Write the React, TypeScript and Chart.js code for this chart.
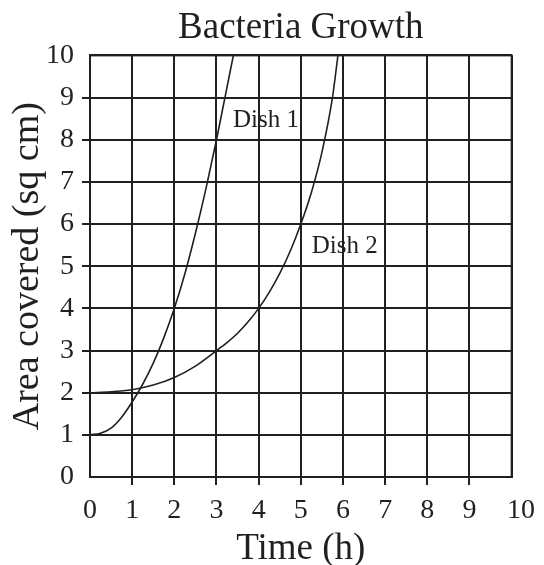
import React, { useEffect, useRef } from "react";
import { Chart, registerables } from "chart.js";

Chart.register(...registerables);

const chartTitle = "Bacteria Growth";
const xTitle = "Time (h)";
const yTitle = "Area covered (sq cm)";

const dish1Time = [0, 0.25, 0.5, 0.75, 1, 1.25, 1.5, 1.75, 2, 2.25, 2.5, 2.75, 3, 3.2, 3.4];
const dish1Area = [1, 1.04, 1.16, 1.42, 1.78, 2.2, 2.7, 3.3, 4, 4.82, 5.78, 6.84, 8, 9.0, 10];

const dish2Time = [0, 0.5, 1, 1.5, 2, 2.5, 3, 3.25, 3.5, 3.75, 4, 4.25, 4.5, 4.75, 5, 5.25, 5.5, 5.75, 5.88];
const dish2Area = [2, 2.02, 2.07, 2.18, 2.36, 2.63, 3, 3.19, 3.41, 3.68, 4, 4.38, 4.83, 5.36, 6, 6.75, 7.7, 9.0, 10];

const seriesNames = ["Dish 1", "Dish 2"];
const labelTime = [3.39, 5.26];
const labelArea = [8.29, 5.31];

const xTicks = [0, 1, 2, 3, 4, 5, 6, 7, 8, 9, 10];
const yTicks = [0, 1, 2, 3, 4, 5, 6, 7, 8, 9, 10];

const INK = "#231f20";
const FONT = "'Liberation Serif', 'Times New Roman', serif";

export default function App() {
  const ref = useRef<HTMLCanvasElement | null>(null);

  useEffect(() => {
    if (!ref.current) return;

    const frame = {
      id: "frame",
      afterDatasetsDraw(chart: any) {
        const { ctx, chartArea } = chart;
        ctx.save();
        ctx.strokeStyle = INK;
        ctx.lineWidth = 2;
        ctx.strokeRect(
          chartArea.left,
          chartArea.top,
          chartArea.right - chartArea.left,
          chartArea.bottom - chartArea.top
        );
        ctx.restore();
      },
    };

    const seriesLabels = {
      id: "seriesLabels",
      afterDatasetsDraw(chart: any) {
        const { ctx, scales } = chart;
        ctx.save();
        ctx.fillStyle = INK;
        ctx.font = `25px ${FONT}`;
        ctx.textAlign = "left";
        ctx.textBaseline = "alphabetic";
        seriesNames.forEach((name, i) => {
          ctx.fillText(
            name,
            scales.x.getPixelForValue(labelTime[i]),
            scales.y.getPixelForValue(labelArea[i])
          );
        });
        ctx.restore();
      },
    };

    const tickColor = (c: any) =>
      c.index === 0 || c.index === 10 ? "rgba(0,0,0,0)" : INK;

    const chart = new Chart(ref.current, {
      type: "line",
      data: {
        datasets: [
          {
            label: seriesNames[0],
            data: dish1Time.map((t, i) => ({ x: t, y: dish1Area[i] })),
            borderColor: INK,
            borderWidth: 1.6,
            pointRadius: 0,
            cubicInterpolationMode: "monotone",
            fill: false,
          },
          {
            label: seriesNames[1],
            data: dish2Time.map((t, i) => ({ x: t, y: dish2Area[i] })),
            borderColor: INK,
            borderWidth: 1.6,
            pointRadius: 0,
            cubicInterpolationMode: "monotone",
            fill: false,
          },
        ],
      },
      options: {
        animation: false,
        responsive: false,
        maintainAspectRatio: false,
        layout: { padding: { top: 0, left: 0, right: 32, bottom: 0 } },
        plugins: {
          legend: { display: false },
          tooltip: { enabled: false },
          title: {
            display: true,
            text: chartTitle,
            fullSize: false,
            color: INK,
            font: { family: FONT, size: 37, weight: "normal", lineHeight: 1.2 },
            padding: { top: 6, bottom: 5 },
          },
        },
        scales: {
          x: {
            type: "linear",
            min: 0,
            max: 10,
            afterFit: (s: any) => {
              s.height = 88;
            },
            afterBuildTicks: (s: any) => {
              s.ticks = xTicks.map((v) => ({ value: v }));
            },
            ticks: {
              color: INK,
              font: { family: FONT, size: 28 },
              padding: 9,
              maxRotation: 0,
              autoSkip: false,
              callback: (v: any) => (Number(v) === 10 ? "\u2002\u200a\u200a10" : String(v)),
            },
            grid: { color: INK, lineWidth: 2, tickLength: 8, tickColor: tickColor },
            border: { display: true, color: INK, width: 2 },
            title: {
              display: true,
              text: xTitle,
              color: INK,
              font: { family: FONT, size: 37, lineHeight: 0.85 },
              padding: { top: 0, bottom: 0 },
            },
          },
          y: {
            type: "linear",
            min: 0,
            max: 10,
            afterFit: (s: any) => {
              s.width = 90;
            },
            afterBuildTicks: (s: any) => {
              s.ticks = yTicks.map((v) => ({ value: v }));
            },
            ticks: {
              color: INK,
              font: { family: FONT, size: 28 },
              padding: 8,
              autoSkip: false,
            },
            grid: { color: INK, lineWidth: 2, tickLength: 8, tickColor: tickColor },
            border: { display: true, color: INK, width: 2 },
            title: {
              display: true,
              text: yTitle,
              color: INK,
              font: { family: FONT, size: 38, lineHeight: 1 },
              padding: { top: 9, bottom: 0 },
            },
          },
        },
      },
      plugins: [frame, seriesLabels],
    } as any);

    return () => chart.destroy();
  }, []);

  return (
    <div
      style={{
        position: "fixed",
        left: 0,
        top: 0,
        width: 544,
        height: 565,
        background: "#fff",
      }}
    >
      <canvas ref={ref} width={544} height={565} style={{ display: "block" }} />
    </div>
  );
}
